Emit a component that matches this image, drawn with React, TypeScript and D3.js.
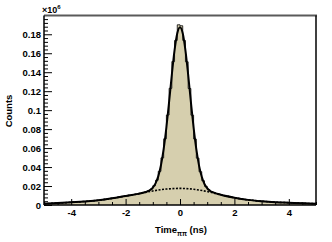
import React, { useEffect, useRef } from "react";
import * as d3 from "d3";

// histogram: 100 bins of 0.1 ns from -5 to 5 (units of 10^6 counts)
const histLow = -5;
const binWidth = 0.1;
const histCounts = [
  0.0015, 0.0016, 0.0017, 0.0018, 0.0019, 0.0021, 0.0022, 0.0024, 0.0025, 0.0027,
  0.0029, 0.0031, 0.0033, 0.0035, 0.0037, 0.0039, 0.0041, 0.0044, 0.0046, 0.0049,
  0.0052, 0.0056, 0.006, 0.0064, 0.0068, 0.0072, 0.0077, 0.0082, 0.0087, 0.0092,
  0.0097, 0.0102, 0.0107, 0.0112, 0.0117, 0.0124, 0.0131, 0.0138, 0.015, 0.0169,
  0.0203, 0.0261, 0.0355, 0.0497, 0.0698, 0.0949, 0.123, 0.1512, 0.1735, 0.19,
  0.189, 0.1735, 0.151, 0.1228, 0.0947, 0.0696, 0.0494, 0.0351, 0.0256, 0.0197,
  0.0162, 0.0142, 0.0129, 0.0121, 0.0112, 0.0104, 0.0098, 0.0092, 0.0086, 0.008,
  0.0075, 0.007, 0.0066, 0.0061, 0.0056, 0.0052, 0.0049, 0.0046, 0.0043, 0.0041,
  0.0039, 0.0037, 0.0035, 0.0033, 0.0031, 0.003, 0.0029, 0.0027, 0.0026, 0.0025,
  0.0024, 0.0023, 0.0022, 0.002, 0.0019, 0.0018, 0.0017, 0.0016, 0.0015, 0.0014,
];

// total fit (solid)
const fitX = [
  -5, -4.5, -4, -3.5, -3, -2.5, -2, -1.5, -1.4, -1.3, -1.2, -1.1, -1, -0.9, -0.8, -0.7,
  -0.6, -0.5, -0.4, -0.3, -0.2, -0.1, 0, 0.1, 0.2, 0.3, 0.4, 0.5, 0.6, 0.7, 0.8, 0.9,
  1, 1.1, 1.2, 1.3, 1.4, 1.5, 2, 2.5, 3, 3.5, 4, 4.5, 5,
];
const fitY = [
  0.0014, 0.002, 0.0028, 0.0038, 0.005, 0.007, 0.0095, 0.012, 0.0127, 0.0134, 0.0144, 0.0158,
  0.0184, 0.0228, 0.0302, 0.0419, 0.0591, 0.0818, 0.1089, 0.1375, 0.1632, 0.1811, 0.1875,
  0.1811, 0.1631, 0.1374, 0.1088, 0.0816, 0.0588, 0.0415, 0.0297, 0.0222, 0.0178, 0.0151,
  0.0135, 0.0125, 0.0116, 0.0108, 0.0077, 0.0054, 0.004, 0.003, 0.0024, 0.0018, 0.0014,
];

// broad component (dashed)
const broadX = [-5, -4.5, -4, -3.5, -3, -2.5, -2, -1.5, -1, -0.5, 0, 0.5, 1, 1.5, 2, 2.5, 3, 3.5, 4, 4.5, 5];
const broadY = [
  0.0014, 0.002, 0.0028, 0.0038, 0.005, 0.007, 0.0095, 0.012, 0.0148, 0.0168, 0.0175,
  0.0166, 0.0142, 0.0108, 0.0077, 0.0054, 0.004, 0.003, 0.0024, 0.0018, 0.0014,
];

const yMajor = [0, 0.02, 0.04, 0.06, 0.08, 0.1, 0.12, 0.14, 0.16, 0.18];
const xMajor = [-4, -2, 0, 2, 4];

const W = 332;
const H = 242;
const font = "'Liberation Sans', Arial, sans-serif";

const App = () => {
  const svgRef = useRef<SVGSVGElement | null>(null);

  useEffect(() => {
    if (!svgRef.current) return;
    const root = d3.select(svgRef.current);
    root.selectAll("*").remove();

    const left = 44, right = 316, top = 15.5, bottom = 205;
    const x = d3.scaleLinear().domain([-5, 5]).range([left, right]);
    const y = d3.scaleLinear().domain([0, 0.1998]).range([bottom, top]);

    root.append("defs").append("clipPath").attr("id", "plotclip")
      .append("rect").attr("x", left).attr("y", top - 1)
      .attr("width", right - left).attr("height", bottom - top + 1);

    const plot = root.append("g").attr("clip-path", "url(#plotclip)");

    // histogram as step outline
    const steps: [number, number][] = [[histLow, 0]];
    histCounts.forEach((c, i) => {
      const x0 = histLow + i * binWidth;
      steps.push([x0, c], [x0 + binWidth, c]);
    });
    steps.push([histLow + histCounts.length * binWidth, 0]);

    plot.append("path")
      .datum(steps)
      .attr("fill", "#d6cfae")
      .attr("stroke", "#000")
      .attr("stroke-width", 0.8)
      .attr("d", d3.line<[number, number]>().x(d => x(d[0])).y(d => y(d[1])));

    // broad component
    plot.append("path")
      .datum(broadX.map((v, i) => [v, broadY[i]] as [number, number]))
      .attr("fill", "none")
      .attr("stroke", "#000")
      .attr("stroke-width", 1.6)
      .attr("stroke-dasharray", "2,1.5")
      .attr("d", d3.line<[number, number]>().x(d => x(d[0])).y(d => y(d[1])).curve(d3.curveMonotoneX));

    // total fit
    plot.append("path")
      .datum(fitX.map((v, i) => [v, fitY[i]] as [number, number]))
      .attr("fill", "none")
      .attr("stroke", "#000")
      .attr("stroke-width", 2)
      .attr("stroke-linejoin", "round")
      .attr("d", d3.line<[number, number]>().x(d => x(d[0])).y(d => y(d[1])).curve(d3.curveMonotoneX));

    // frame top / right
    root.append("line").attr("x1", left).attr("x2", right + 1).attr("y1", top).attr("y2", top)
      .attr("stroke", "#5a5a5a").attr("stroke-width", 2);
    root.append("line").attr("x1", right).attr("x2", right).attr("y1", top).attr("y2", bottom)
      .attr("stroke", "#000").attr("stroke-width", 1.5);

    // y axis
    const yMinor = d3.range(0, 0.1999, 0.004).filter(v => !yMajor.some(m => Math.abs(m - v) < 1e-9));
    const yAxis = root.append("g").attr("transform", `translate(${left},0)`);
    yAxis.call(d3.axisLeft(y).tickValues(yMajor).tickSize(-8).tickPadding(3)
      .tickFormat(d => String(+(+d).toFixed(2))));
    yAxis.append("g").call(d3.axisLeft(y).tickValues(yMinor).tickSize(-4).tickFormat(() => ""))
      .select(".domain").remove();

    // x axis
    const xMinor = d3.range(-5, 5.001, 0.5).filter(v => !xMajor.includes(v));
    const xAxis = root.append("g").attr("transform", `translate(0,${bottom})`);
    xAxis.call(d3.axisBottom(x).tickValues(xMajor).tickSize(-6).tickPadding(4)
      .tickFormat(d => String(d)));
    xAxis.append("g").call(d3.axisBottom(x).tickValues(xMinor).tickSize(-3).tickFormat(() => ""))
      .select(".domain").remove();

    root.selectAll(".domain").attr("stroke", "#000").attr("stroke-width", 1.5);
    root.selectAll(".tick line").attr("stroke", "#000").attr("stroke-width", 1);
    root.selectAll(".tick text")
      .style("font-family", font).style("font-size", "9.5px").style("font-weight", "bold").attr("fill", "#000");
    xAxis.selectAll(".domain").attr("d", `M${left},0H${right}`);
    yAxis.selectAll(".domain").attr("d", `M0,${bottom}V${top}`);

    // titles
    root.append("text")
      .attr("transform", `translate(12,111) rotate(-90)`)
      .attr("text-anchor", "middle")
      .style("font-family", font).style("font-size", "9.5px").style("font-weight", "bold")
      .text("Counts");

    const xt = root.append("text")
      .attr("x", 155).attr("y", 233)
      .style("font-family", font).style("font-size", "9.5px").style("font-weight", "bold");
    xt.append("tspan").text("Time");
    xt.append("tspan").attr("dy", 2.5).style("font-size", "6.5px").text("ππ");
    xt.append("tspan").attr("dy", -2.5).text(" (ns)");

    const mult = root.append("text")
      .attr("x", 42).attr("y", 13)
      .style("font-family", font).style("font-size", "9px").style("font-weight", "bold");
    mult.append("tspan").text("×10");
    mult.append("tspan").attr("dy", -4).style("font-size", "6px").text("6");
  }, []);

  return (
    <div style={{ position: "fixed", left: 0, top: 0, background: "#fff" }}>
      <svg ref={svgRef} width={W} height={H} style={{ display: "block" }} />
    </div>
  );
};

export default App;
